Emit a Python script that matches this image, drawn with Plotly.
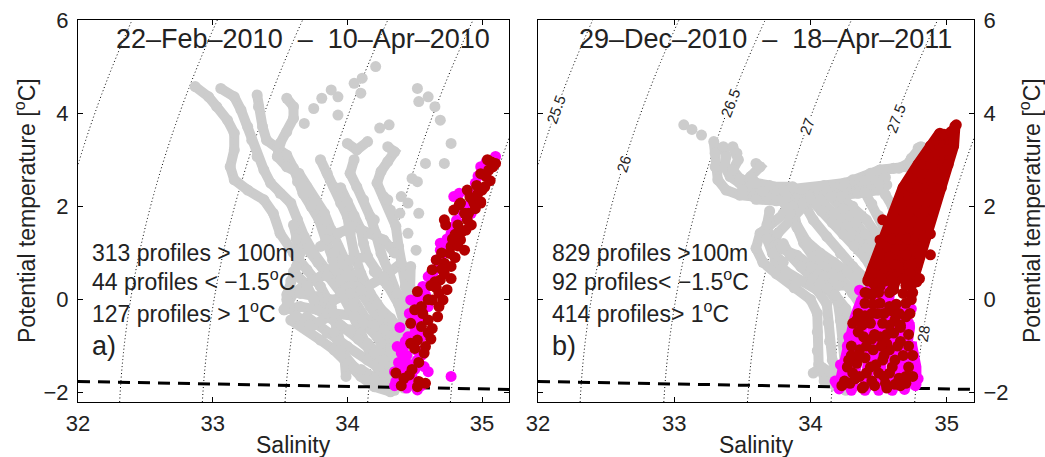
import numpy as np
import plotly.graph_objects as go

# ---------------- axis limits and contour levels ----------------
S_RANGE = [32, 35.2]
T_RANGE = [-2.2, 6]
S_TICKS = [32, 33, 34, 35]
T_TICKS = [-2, 0, 2, 4, 6]
SIGMA_LEVELS = [25.5, 26, 26.5, 27, 27.5, 28]
# temperature at which each isopycnal label sits (panel b)
SIGMA_LABEL_T = [4.07, 2.92, 4.21, 3.71, 3.89, -0.72]

# surface freezing line
FREEZE_S = [32.0, 35.2]
FREEZE_T = [-1.76, -1.93]

# ---------------- panel a: 22-Feb-2010 - 10-Apr-2010 ----------------
A_GRAY_TRACKS = [
    [(32.87, 4.57), (32.97, 4.35), (33.03, 4.14), (33.11, 3.85), (33.16, 3.57), (33.16, 3.21), (33.13, 2.85),
     (33.16, 2.57), (33.26, 2.35), (33.38, 2.14), (33.45, 1.85), (33.50, 1.42), (33.60, 1.00), (33.70, 0.64),
     (33.80, 0.28), (33.88, -0.15), (33.93, -0.72), (33.98, -1.30), (33.99, -1.65)],
    [(33.06, 4.53), (33.16, 4.35), (33.21, 4.07), (33.26, 3.71), (33.29, 3.42), (33.33, 3.07), (33.38, 2.78),
     (33.43, 2.50), (33.50, 2.28), (33.58, 2.07), (33.63, 1.71), (33.68, 1.35), (33.75, 1.00), (33.84, 0.64),
     (33.93, 0.28), (34.02, -0.22), (34.10, -0.72), (34.17, -1.22), (34.25, -1.65), (34.32, -1.87)],
    [(33.33, 4.39), (33.34, 4.14), (33.37, 3.71), (33.40, 3.42), (33.48, 3.25), (33.55, 3.10), (33.60, 2.82),
     (33.63, 2.53), (33.67, 2.28), (33.73, 2.00), (33.79, 1.71), (33.84, 1.28), (33.89, 0.85), (33.95, 0.42),
     (34.05, -0.01), (34.15, -0.44), (34.25, -0.94), (34.32, -1.44)],
    [(33.55, 4.32), (33.60, 4.14), (33.60, 3.89), (33.55, 3.60), (33.50, 3.35), (33.48, 3.07), (33.55, 2.85),
     (33.64, 2.71), (33.70, 2.42), (33.76, 2.14), (33.83, 1.85), (33.88, 1.49), (33.93, 1.14), (34.00, 0.71),
     (34.07, 0.28), (34.17, -0.15), (34.27, -0.65), (34.37, -1.15), (34.42, -1.58)],
    [(33.80, 3.00), (33.85, 2.71), (33.90, 2.42), (33.95, 2.07), (34.00, 1.78), (34.02, 1.42), (34.05, 0.99),
     (34.10, 0.56), (34.17, 0.13), (34.27, -0.29), (34.37, -0.72), (34.45, -1.15)],
    [(34.05, 3.00), (34.02, 2.71), (34.07, 2.42), (34.12, 2.14), (34.17, 1.78), (34.21, 1.42), (34.25, 0.99),
     (34.31, 0.56), (34.37, 0.13), (34.42, -0.29)],
    [(34.30, 3.28), (34.35, 3.17), (34.30, 2.96), (34.25, 2.75), (34.22, 2.50), (34.27, 2.21), (34.32, 1.92),
     (34.36, 1.57), (34.38, 1.14), (34.41, 0.71), (34.43, 0.28), (34.46, -0.15)],
    [(33.53, -0.22), (33.65, -0.15), (33.78, -0.22), (33.90, -0.44), (34.02, -0.65), (34.15, -0.94),
     (34.27, -1.30), (34.37, -1.65), (34.42, -1.90)],
    [(33.53, -0.22), (33.60, 0.13), (33.70, 0.35), (33.80, 0.49), (33.90, 0.71), (34.02, 0.85), (34.15, 0.92)],
    [(33.58, -0.44), (33.70, -0.65), (33.80, -0.87), (33.90, -1.08), (34.00, -1.37), (34.10, -1.65),
     (34.20, -1.87), (34.32, -1.98)],
    [(33.65, 0.13), (33.78, 0.06), (33.90, -0.01), (34.02, 0.13), (34.15, 0.28), (34.27, 0.49), (34.40, 0.78)],
    [(33.70, -0.37), (33.85, -0.72), (34.00, -1.01), (34.15, -1.30), (34.30, -1.58), (34.40, -1.80)],
    [(34.47, 0.71), (34.47, 0.13), (34.46, -0.44), (34.45, -1.01), (34.45, -1.51), (34.50, -1.87)],
    [(33.80, 1.14), (33.93, 1.42), (34.05, 1.57), (34.15, 1.42), (34.27, 1.28), (34.35, 1.00)],
    [(34.00, 3.35), (34.07, 3.21), (34.15, 3.39)],
    [(33.60, 0.60), (33.70, 0.30), (33.75, 0.00), (33.85, -0.30), (33.95, -0.55), (34.08, -0.85),
     (34.20, -1.15), (34.32, -1.45), (34.38, -1.75)],
    [(33.70, 1.10), (33.78, 0.80), (33.85, 0.50), (33.95, 0.15), (34.05, -0.15), (34.12, -0.50),
     (34.22, -0.80), (34.32, -1.05), (34.40, -1.35)],
    [(33.90, 1.00), (34.00, 0.50), (34.10, 0.20), (34.22, -0.10), (34.32, -0.40), (34.40, -0.70),
     (34.45, -1.00)],
    [(34.20, 0.60), (34.30, 0.30), (34.38, -0.10), (34.42, -0.50), (34.40, -1.00), (34.38, -1.40)],
    [(33.90, -0.70), (33.95, -1.10), (34.05, -1.45), (34.15, -1.70), (34.30, -1.85)],
    [(33.75, -0.55), (33.90, -0.30), (34.05, -0.35), (34.20, -0.55), (34.35, -0.90)],
    [(33.95, 2.40), (34.00, 2.10), (34.05, 1.80), (34.10, 1.50), (34.12, 1.20), (34.15, 0.90), (34.22, 0.60)],
    [(33.60, 1.60), (33.62, 1.30), (33.65, 1.00), (33.62, 0.70), (33.58, 0.40), (33.55, 0.10)],
    [(33.55, 0.00), (33.62, -0.35), (33.72, -0.55)],
    [(34.10, -1.50), (34.20, -1.70), (34.35, -1.95)],
]
A_GRAY_DOTS = [
    (34.21, 5.00), (34.11, 4.75), (34.05, 4.64), (34.10, 4.43), (33.93, 4.35), (33.93, 3.96), (33.88, 4.50),
    (33.81, 4.32), (33.75, 4.10), (33.68, 3.78), (34.31, 3.75), (34.24, 3.68), (34.52, 4.53), (34.60, 4.35),
    (34.65, 4.14), (34.69, 3.85), (34.53, 4.25), (34.77, 3.35), (34.72, 2.92), (34.58, 2.92), (34.48, 2.60),
    (34.52, 2.53), (34.40, 2.21), (34.45, 2.07), (34.39, 1.85), (34.30, 2.14), (34.51, 1.06), (34.45, 1.42),
    (34.53, 1.85), (34.20, 1.71),
]
A_MAGENTA = [
    (35.10, 3.07), (34.99, 2.85), (34.83, 2.28), (34.79, 2.21), (34.92, 1.85), (34.77, 1.42), (34.69, 1.21),
    (34.69, 1.06), (34.60, 0.49), (34.56, 0.28), (34.47, -0.01), (34.45, -0.80), (34.42, -1.01), (34.40, -1.15),
    (34.42, -1.30), (34.52, -1.30), (34.57, -1.44), (34.42, -1.51), (34.36, -1.76), (34.44, -1.90),
    (34.77, -1.65), (34.50, -0.29), (34.55, -0.44), (34.37, -1.01), (34.52, -1.94), (34.50, -0.72),
    (34.62, 0.35), (34.66, 0.85), (34.72, 0.71), (34.48, -1.65), (34.40, -1.70), (34.55, -1.85), (34.60, -1.55),
    (34.47, -1.40), (34.39, -0.60), (34.58, 0.10), (34.74, 1.30), (34.85, 1.90), (34.95, 2.50), (34.88, 2.00),
    (34.52, -1.10), (34.46, -0.30), (34.44, -1.20), (34.38, -1.35), (34.35, -1.55), (34.49, -0.55),
    (34.53, 0.05), (34.64, 0.60), (34.70, 0.95), (34.81, 1.70),
    (34.35, -1.85), (34.45, -1.78), (34.50, -1.50), (34.55, -1.20), (34.43, -0.90), (34.48, -0.45),
    (34.52, -0.10), (34.57, 0.20), (34.62, 0.55), (34.68, 0.80), (34.73, 1.15), (34.78, 1.55), (34.82, 1.95),
    (34.90, 2.30), (34.97, 2.65), (35.03, 2.95), (34.60, -0.15), (34.55, -0.80),
]
A_RED = [
    (34.83, 2.03), (34.94, 2.07), (34.99, 2.10), (34.73, 1.60), (34.82, 1.60), (34.89, 1.71), (34.88, 1.49),
    (34.84, 1.28), (34.77, 1.14), (34.87, 1.06), (34.66, 0.85), (34.72, 0.78), (34.77, 0.71), (34.63, 0.64),
    (34.69, 0.42), (34.65, 0.38), (34.77, 0.45), (34.74, 0.21), (34.52, 0.17), (34.63, -0.01), (34.71, -0.01),
    (34.68, -0.15), (34.50, -0.22), (34.55, -0.15), (34.47, -0.51), (34.55, -0.58), (34.63, -0.62),
    (34.67, -0.37), (34.60, -0.44), (34.47, -0.94), (34.58, -1.01), (34.57, -1.15), (34.36, -1.58),
    (34.42, -1.69), (34.46, -1.62), (34.53, -1.76), (34.58, -1.80), (34.52, -1.87), (35.04, 3.00),
    (35.10, 2.92), (35.05, 2.78), (35.03, 2.64), (35.02, 2.42), (34.89, 2.35), (34.97, 2.28), (34.93, 2.14),
    (34.84, 2.07), (34.99, 2.07), (34.79, 1.92), (34.72, 1.71), (34.76, 0.99), (34.68, 0.13), (34.60, -0.72),
    (34.52, -0.87), (35.07, 2.95), (34.96, 2.45), (34.90, 1.85), (34.80, 1.40), (34.70, 1.00), (34.62, 0.30),
    (34.40, -1.85), (34.48, -1.50), (34.53, -1.35), (34.50, -1.05), (34.62, -0.85), (34.56, -0.30),
    (34.60, 0.00), (34.66, 0.25), (34.72, 0.55), (34.70, 0.65), (34.80, 0.90), (34.82, 1.15), (34.78, 1.30),
    (34.85, 1.45), (34.92, 1.60), (34.87, 1.85), (34.95, 1.95), (34.91, 2.20), (35.00, 2.35), (35.06, 2.55),
    (34.99, 2.70), (35.08, 2.85),
]
A_TITLE = "22–Feb–2010\u00a0\u00a0–\u00a0\u00a010–Apr–2010"
A_STATS = ["313 profiles > 100m", "44 profiles < −1.5<sup>o</sup>C", "127 profiles > 1<sup>o</sup>C"]

# ---------------- panel b: 29-Dec-2010 - 18-Apr-2011 ----------------
B_GRAY_TRACKS = [
    [(33.29, 3.39), (33.30, 3.14), (33.30, 2.85), (33.32, 2.57), (33.38, 2.35), (33.48, 2.24), (33.58, 2.21),
     (33.68, 2.21), (33.82, 2.24), (33.97, 2.28), (34.12, 2.32), (34.26, 2.35), (34.41, 2.39), (34.56, 2.46)],
    [(33.36, 3.28), (33.38, 3.07), (33.37, 2.85), (33.41, 2.64), (33.48, 2.50), (33.58, 2.42), (33.73, 2.42),
     (33.87, 2.42)],
    [(33.43, 3.28), (33.46, 3.14), (33.47, 3.00), (33.43, 2.78), (33.48, 2.60), (33.56, 2.50)],
    [(33.60, 2.92), (33.63, 2.85), (33.56, 2.64), (33.60, 2.50), (33.70, 2.45)],
    [(34.22, 2.46), (34.31, 2.57), (34.44, 2.71), (34.51, 2.78), (34.61, 2.82), (34.70, 2.85), (34.74, 3.03),
     (34.79, 3.25), (34.81, 3.28)],
    [(34.26, 2.42), (34.36, 2.57), (34.51, 2.78), (34.65, 2.82), (34.73, 2.95), (34.77, 3.00), (34.82, 3.27)],
    [(33.50, 2.35), (33.65, 2.32), (33.80, 2.35), (33.95, 2.38), (34.10, 2.45), (34.25, 2.50), (34.40, 2.55),
     (34.55, 2.62)],
    [(33.60, 2.15), (33.75, 2.12), (33.90, 2.15), (34.05, 2.18), (34.20, 2.25), (34.35, 2.28), (34.50, 2.35)],
    [(33.90, 2.07), (33.80, 1.85), (33.70, 1.64), (33.63, 1.42), (33.60, 1.10), (33.65, 0.80), (33.75, 0.55),
     (33.88, 0.25), (34.00, 0.00), (34.05, -0.30), (34.05, -0.70), (34.05, -1.10), (34.06, -1.40),
     (34.10, -1.65), (34.18, -1.85), (34.26, -1.95)],
    [(33.95, 2.00), (33.85, 1.71), (33.76, 1.42), (33.72, 1.14), (33.74, 0.85), (33.82, 0.60), (33.93, 0.40),
     (34.05, 0.20), (34.12, -0.10), (34.13, -0.50), (34.14, -0.90), (34.16, -1.30), (34.20, -1.60)],
    [(33.95, 2.07), (34.02, 1.71), (34.12, 1.35), (34.22, 0.99), (34.31, 0.71), (34.41, 0.42), (34.48, 0.13)],
    [(33.87, 2.00), (33.90, 1.57), (33.95, 1.21), (34.02, 0.92), (34.12, 0.71), (34.22, 0.49), (34.31, 0.13),
     (34.39, -0.22)],
    [(34.07, 2.14), (34.17, 1.85), (34.26, 1.57), (34.36, 1.28), (34.46, 0.99), (34.51, 0.71)],
    [(34.22, 2.21), (34.31, 2.00), (34.41, 1.71), (34.48, 1.42), (34.53, 1.14)],
    [(33.80, 2.10), (33.85, 1.85), (33.90, 1.55), (33.97, 1.25), (34.07, 1.00), (34.17, 0.80), (34.27, 0.60),
     (34.36, 0.35), (34.42, 0.10)],
    [(34.00, 2.15), (34.08, 1.90), (34.16, 1.65), (34.24, 1.40), (34.32, 1.15), (34.40, 0.90), (34.46, 0.60),
     (34.50, 0.35)],
    [(34.15, 2.20), (34.24, 1.95), (34.33, 1.65), (34.40, 1.40), (34.46, 1.20), (34.52, 0.95)],
    [(34.40, 2.30), (34.45, 2.05), (34.50, 1.80), (34.55, 1.55), (34.58, 1.30)],
    [(34.50, 2.50), (34.55, 2.25), (34.60, 2.00), (34.62, 1.75)],
    [(33.70, 1.90), (33.68, 1.60), (33.70, 1.30), (33.78, 1.10), (33.90, 0.95), (34.00, 0.70), (34.10, 0.50),
     (34.20, 0.30), (34.30, 0.30)],
    [(33.80, 1.20), (33.85, 0.95), (33.93, 0.70), (34.02, 0.45), (34.12, 0.25), (34.20, -0.05), (34.22, -0.45),
     (34.24, -0.85), (34.26, -1.25), (34.26, -1.60)],
    [(34.07, 0.35), (34.18, 0.10), (34.26, -0.20), (34.30, -0.60), (34.32, -1.00), (34.34, -1.40)],
    [(33.68, 1.30), (33.72, 1.00), (33.80, 0.80)],
    [(34.02, -1.58), (34.08, -1.45), (34.14, -1.55), (34.10, -1.75)],
]
B_GRAY_DOTS = [(33.07, 3.75), (33.13, 3.65), (33.20, 3.53)]
B_MAGENTA_TRACKS = [
    [(34.21, -1.92), (34.24, -1.50), (34.27, -1.00), (34.33, -0.40), (34.38, 0.00)],
    [(34.30, -1.95), (34.33, -1.30), (34.37, -0.70), (34.42, -0.10), (34.46, 0.45)],
    [(34.40, -1.95), (34.42, -1.30), (34.46, -0.70), (34.49, -0.10), (34.53, 0.40)],
    [(34.50, -1.95), (34.51, -1.30), (34.53, -0.70), (34.56, -0.10), (34.59, 0.30)],
    [(34.60, -1.95), (34.60, -1.30), (34.60, -0.70), (34.62, -0.10)],
    [(34.69, -1.93), (34.68, -1.30), (34.68, -0.70), (34.68, -0.20)],
    [(34.77, -1.85), (34.77, -1.45), (34.74, -1.00), (34.72, -0.50)],
]
B_MAGENTA = [
    (34.19, -1.80), (34.25, -1.65), (34.62, 1.85), (34.84, 1.49), (34.97, 2.57),
    (34.18, -1.75), (34.22, -1.40), (34.28, -0.80), (34.79, -1.70), (34.76, -0.80), (34.74, -0.20),
    (34.36, 0.20),
]
B_RED_TRACKS = [
    [(34.42, 0.40), (34.46, 0.70), (34.54, 1.30), (34.62, 1.90), (34.68, 2.40), (34.79, 2.90), (34.88, 3.30),
     (34.95, 3.57)],
    [(34.48, 0.25), (34.52, 0.70), (34.60, 1.30), (34.68, 1.90), (34.74, 2.40), (34.83, 2.90), (34.91, 3.30),
     (34.98, 3.55)],
    [(34.55, 0.55), (34.59, 0.70), (34.66, 1.30), (34.73, 1.90), (34.79, 2.40), (34.88, 2.90), (34.95, 3.30)],
    [(34.60, 0.20), (34.65, 0.70), (34.71, 1.30), (34.79, 1.90), (34.85, 2.40), (34.92, 2.90), (34.98, 3.30),
     (35.03, 3.60)],
    [(34.68, 0.45), (34.72, 0.70), (34.77, 1.30), (34.84, 1.90), (34.90, 2.40), (34.97, 2.90), (35.02, 3.30)],
    [(34.74, 0.30), (34.78, 0.70), (34.83, 1.30), (34.90, 1.90), (34.96, 2.40), (35.01, 2.90), (35.05, 3.30),
     (35.06, 3.72)],
]
B_RED = [
    (34.58, 0.92), (34.70, 0.96), (34.78, 0.78), (34.53, 0.64), (34.63, 0.49), (34.73, 0.56), (34.51, 0.28),
    (34.46, 0.35), (34.61, 0.21), (34.68, 0.13), (34.78, 0.38), (34.40, -0.08), (34.51, -0.08), (34.58, -0.15),
    (34.70, -0.08), (34.34, -0.44), (34.44, -0.51), (34.53, -0.51), (34.62, -0.44), (34.70, -0.37),
    (34.39, -0.80), (34.51, -0.80), (34.61, -0.72), (34.36, -1.08), (34.46, -1.08), (34.58, -1.08),
    (34.53, -1.30), (34.31, -1.58), (34.41, -1.58), (34.50, -1.58), (34.58, -1.58), (34.29, -1.80),
    (34.39, -1.87), (34.55, -1.80), (34.65, -1.69), (34.75, -1.65), (34.38, -1.90), (34.56, -1.90),
    (34.51, 1.28), (34.88, 0.96), (34.34, -1.37), (34.28, -1.30), (34.31, -0.51), (34.42, 0.13),
    (34.65, 2.14), (34.53, 1.71), (34.88, 1.41), (35.00, 3.21), (35.07, 3.75),
    (34.25, -1.75), (34.33, -1.70), (34.45, -1.75), (34.62, -1.82), (34.70, -1.80), (34.30, -1.20),
    (34.40, -1.25), (34.48, -1.40), (34.62, -1.30), (34.68, -1.20), (34.35, -0.70), (34.45, -0.85),
    (34.56, -0.95), (34.66, -0.90), (34.40, -0.35), (34.49, -0.30), (34.60, -0.25), (34.66, -0.60),
    (34.45, 0.10), (34.55, 0.40), (34.48, 0.55), (34.70, 0.30), (34.74, 0.00),
    (34.23, -1.85), (34.47, -1.85), (34.66, -1.85), (34.36, -1.65), (34.54, -1.65), (34.70, -1.65),
    (34.27, -1.45), (34.44, -1.45), (34.60, -1.45), (34.72, -1.45), (34.36, -1.20), (34.54, -1.20),
    (34.75, -1.20), (34.30, -1.00), (34.41, -1.00), (34.52, -1.00), (34.64, -1.00), (34.72, -1.00),
    (34.47, -0.75), (34.56, -0.75), (34.72, -0.75), (34.38, -0.55), (34.58, -0.55), (34.66, -0.55),
    (34.35, -0.30), (34.45, -0.30), (34.54, -0.30), (34.65, -0.30), (34.73, -0.30), (34.46, -0.10),
    (34.63, -0.10), (34.40, 0.15), (34.50, 0.15), (34.58, 0.15), (34.75, 0.15), (34.43, 0.45),
    (34.52, 0.45), (34.60, 0.45), (34.68, 0.45), (34.80, 0.45), (34.50, 0.75), (34.62, 0.75), (34.74, 0.75),
]
B_TITLE = "29–Dec–2010\u00a0\u00a0–\u00a0\u00a018–Apr–2011"
B_STATS = ["829 profiles >100m", "92 profiles< −1.5<sup>o</sup>C", "414 profiles> 1<sup>o</sup>C"]

STATS_T = [1.0, 0.42, -0.27]
STATS_S = 32.09
PANEL_TAG_T = -1.0

# ---------------- styling ----------------
GRAY = "#cccccc"
MAGENTA = "#ff00ff"
DARKRED = "#b30000"
INK = "#222222"
FONT = "Liberation Sans, Arial, Helvetica, sans-serif"
W, H = 1045, 457
X_DOMAINS = [[78 / W, 509 / W], [538 / W, 974 / W]]
Y_DOMAIN = [1 - 402 / H, 1 - 20 / H]


def sigma_theta(s, t):
    """Potential density anomaly at the surface (UNESCO EOS-80)."""
    rw = (999.842594 + 6.793952e-2 * t - 9.095290e-3 * t ** 2 + 1.001685e-4 * t ** 3
          - 1.120083e-6 * t ** 4 + 6.536332e-9 * t ** 5)
    a = 8.24493e-1 - 4.0899e-3 * t + 7.6438e-5 * t ** 2 - 8.2467e-7 * t ** 3 + 5.3875e-9 * t ** 4
    b = -5.72466e-3 + 1.0227e-4 * t - 1.6546e-6 * t ** 2
    c = 4.8314e-4
    return rw + a * s + b * s ** 1.5 + c * s ** 2 - 1000.0


def salinity_on_isopycnal(sig, t):
    lo, hi = 28.0, 38.0
    for _ in range(60):
        mid = 0.5 * (lo + hi)
        if sigma_theta(mid, t) < sig:
            lo = mid
        else:
            hi = mid
    return 0.5 * (lo + hi)


def join_tracks(tracks):
    xs, ys = [], []
    for tr in tracks:
        xs += [p[0] for p in tr] + [None]
        ys += [p[1] for p in tr] + [None]
    return xs, ys


fig = go.Figure()

s_grid = np.linspace(31.8, 35.4, 240)
t_grid = np.linspace(-2.5, 6.3, 240)
SS, TT = np.meshgrid(s_grid, t_grid)
ZZ = sigma_theta(SS, TT)

panels = [
    dict(gray=A_GRAY_TRACKS, dots=A_GRAY_DOTS, mtracks=[], mag=A_MAGENTA, rtracks=[], red=A_RED,
         title=A_TITLE, stats=A_STATS, tag="a)"),
    dict(gray=B_GRAY_TRACKS, dots=B_GRAY_DOTS, mtracks=B_MAGENTA_TRACKS, mag=B_MAGENTA,
         rtracks=B_RED_TRACKS, red=B_RED, title=B_TITLE, stats=B_STATS, tag="b)"),
]

DOT = 11
TUBE = 10

annotations = []
for i, p in enumerate(panels):
    xa = "x" if i == 0 else "x2"
    ya = "y" if i == 0 else "y2"

    fig.add_trace(go.Contour(
        x=s_grid, y=t_grid, z=ZZ, xaxis=xa, yaxis=ya,
        contours=dict(start=SIGMA_LEVELS[0], end=SIGMA_LEVELS[-1], size=0.5, coloring="lines"),
        colorscale=[[0, "black"], [1, "black"]], showscale=False,
        line=dict(width=1, dash="1px,2.5px", smoothing=1), hoverinfo="skip"))

    gx, gy = join_tracks(p["gray"])
    fig.add_trace(go.Scatter(x=gx, y=gy, xaxis=xa, yaxis=ya, mode="lines+markers",
                             line=dict(color=GRAY, width=TUBE), marker=dict(color=GRAY, size=DOT),
                             hoverinfo="skip"))
    fig.add_trace(go.Scatter(x=[d[0] for d in p["dots"]], y=[d[1] for d in p["dots"]], xaxis=xa, yaxis=ya,
                             mode="markers", marker=dict(color=GRAY, size=DOT), hoverinfo="skip"))

    fig.add_trace(go.Scatter(x=FREEZE_S, y=FREEZE_T, xaxis=xa, yaxis=ya, mode="lines",
                             line=dict(color="black", width=3, dash="12px,8px"), hoverinfo="skip"))

    if p["mtracks"]:
        mx, my = join_tracks(p["mtracks"])
        fig.add_trace(go.Scatter(x=mx, y=my, xaxis=xa, yaxis=ya, mode="lines+markers",
                                 line=dict(color=MAGENTA, width=TUBE + 2), marker=dict(color=MAGENTA, size=DOT),
                                 hoverinfo="skip"))
    fig.add_trace(go.Scatter(x=[d[0] for d in p["mag"]], y=[d[1] for d in p["mag"]], xaxis=xa, yaxis=ya,
                             mode="markers", marker=dict(color=MAGENTA, size=DOT), hoverinfo="skip"))
    if p["rtracks"]:
        rx, ry = join_tracks(p["rtracks"])
        fig.add_trace(go.Scatter(x=rx, y=ry, xaxis=xa, yaxis=ya, mode="lines+markers",
                                 line=dict(color=DARKRED, width=TUBE + 1), marker=dict(color=DARKRED, size=DOT),
                                 hoverinfo="skip"))
    fig.add_trace(go.Scatter(x=[d[0] for d in p["red"]], y=[d[1] for d in p["red"]], xaxis=xa, yaxis=ya,
                             mode="markers", marker=dict(color=DARKRED, size=DOT), hoverinfo="skip"))

    annotations.append(dict(x=33.67, y=5.6, xref=xa, yref=ya, text=p["title"], showarrow=False,
                            xanchor="center", yanchor="middle",
                            font=dict(size=27, color=INK, family=FONT)))
    for txt, ty in zip(p["stats"], STATS_T):
        annotations.append(dict(x=STATS_S, y=ty, xref=xa, yref=ya, text=txt, showarrow=False,
                                xanchor="left", yanchor="middle", font=dict(size=23, color=INK, family=FONT)))
    annotations.append(dict(x=STATS_S, y=PANEL_TAG_T, xref=xa, yref=ya, text=p["tag"], showarrow=False,
                            xanchor="left", yanchor="middle", font=dict(size=27, color=INK, family=FONT)))
    xd = X_DOMAINS[i]
    annotations.append(dict(x=(xd[0] + xd[1]) / 2, y=1 - 445 / H, xref="paper", yref="paper",
                            text="Salinity", showarrow=False, xanchor="center", yanchor="middle",
                            font=dict(size=23, color=INK, family=FONT)))

# isopycnal labels on panel b, rotated along the contour
px_per_s = (X_DOMAINS[1][1] - X_DOMAINS[1][0]) * W / (S_RANGE[1] - S_RANGE[0])
px_per_t = (Y_DOMAIN[1] - Y_DOMAIN[0]) * H / (T_RANGE[1] - T_RANGE[0])
for sig, tl in zip(SIGMA_LEVELS, SIGMA_LABEL_T):
    sl = salinity_on_isopycnal(sig, tl)
    ds = salinity_on_isopycnal(sig, tl + 0.5) - salinity_on_isopycnal(sig, tl - 0.5)
    ang = np.degrees(np.arctan2(1.0 * px_per_t, ds * px_per_s))
    annotations.append(dict(x=sl, y=tl, xref="x2", yref="y2", text=f"{sig:g}", showarrow=False,
                            xanchor="center", yanchor="middle",
                            textangle=-ang, bgcolor="white", borderpad=0,
                            font=dict(size=15, color=INK, family=FONT)))

ytitle = "Potential temperature [<sup>o</sup>C]"
ymid = (Y_DOMAIN[0] + Y_DOMAIN[1]) / 2
for xpix in (25, 1030):
    annotations.append(dict(x=xpix / W, y=ymid, xref="paper", yref="paper", text=ytitle, textangle=-90,
                            xanchor="center", yanchor="middle",
                            showarrow=False, font=dict(size=23, color=INK, family=FONT)))

axis_common = dict(showline=True, linecolor="black", linewidth=1, mirror="ticks", ticks="inside",
                   ticklen=5, tickcolor="black", showgrid=False, zeroline=False, automargin=False,
                   tickfont=dict(size=22, color=INK, family=FONT))

fig.update_layout(
    width=W, height=H, margin=dict(l=0, r=0, t=0, b=0, autoexpand=False),
    paper_bgcolor="white", plot_bgcolor="white", showlegend=False,
    xaxis=dict(domain=X_DOMAINS[0], range=S_RANGE, tickvals=S_TICKS, anchor="y",
               ticklabelstandoff=2, **axis_common),
    yaxis=dict(domain=Y_DOMAIN, range=T_RANGE, tickvals=T_TICKS, anchor="x",
               ticklabelstandoff=4, **axis_common),
    xaxis2=dict(domain=X_DOMAINS[1], range=S_RANGE, tickvals=S_TICKS, anchor="y2",
                ticklabelstandoff=2, **axis_common),
    yaxis2=dict(domain=Y_DOMAIN, range=T_RANGE, tickvals=T_TICKS, anchor="x2", side="right",
                ticklabelstandoff=4, **axis_common),
    annotations=annotations,
)

fig.write_html("out.html")
